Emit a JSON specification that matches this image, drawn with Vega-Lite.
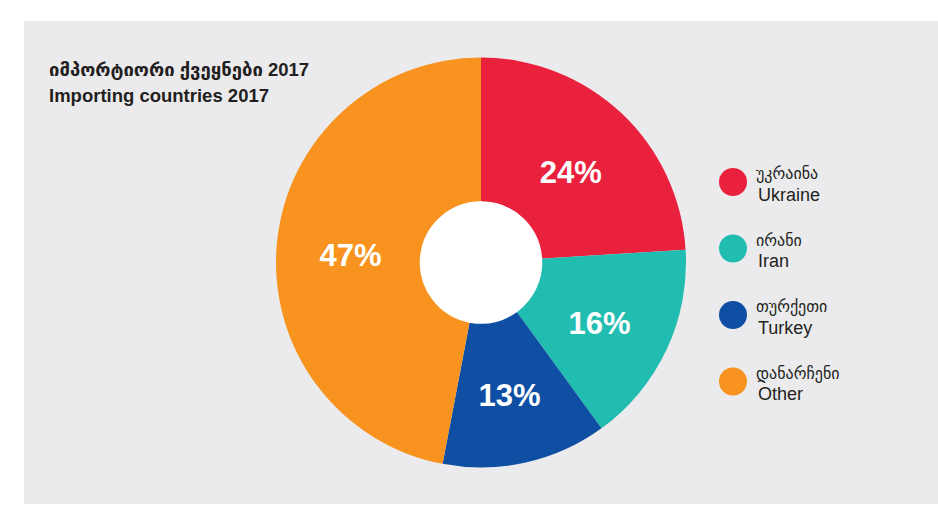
{
  "$schema": "https://vega.github.io/schema/vega-lite/v6.json",
  "width": 914,
  "height": 483,
  "autosize": {"type": "none"},
  "padding": {"left": 24, "top": 21, "right": 0, "bottom": 15},
  "background": "white",
  "view": {"fill": "#EBEBED", "stroke": null},
  "config": {
    "view": {"fill": "#EBEBED", "stroke": null},
    "font": "Liberation Sans, DejaVu Sans, sans-serif"
  },
  "title": {
    "text": ["იმპორტიორი ქვეყნები 2017", "Importing countries 2017"],
    "anchor": "start",
    "frame": "group",
    "orient": "top",
    "offset": 0,
    "dx": 25,
    "dy": 84,
    "baseline": "top",
    "fontSize": 18.5,
    "fontWeight": "bold",
    "lineHeight": 26,
    "color": "#231f20"
  },
  "data": {
    "values": [
      {"i": 1, "ka": "უკრაინა", "en": "Ukraine", "share": 0.24},
      {"i": 2, "ka": "ირანი", "en": "Iran", "share": 0.16},
      {"i": 3, "ka": "თურქეთი", "en": "Turkey", "share": 0.13},
      {"i": 4, "ka": "დანარჩენი", "en": "Other", "share": 0.47}
    ]
  },
  "layer": [
    {
      "mark": {"type": "arc", "radius": 205, "strokeWidth": 0},
      "encoding": {
        "theta": {"field": "share", "type": "quantitative", "stack": true},
        "order": {"field": "i", "type": "quantitative"},
        "fill": {
          "field": "ka",
          "type": "nominal",
          "sort": null,
          "scale": {
            "domain": ["უკრაინა", "ირანი", "თურქეთი", "დანარჩენი"],
            "range": ["#E9213D", "#22BDB1", "#0E4EA3", "#F7931E"]
          },
          "legend": {
            "orient": "none",
            "legendX": 695,
            "legendY": 147,
            "title": null,
            "symbolType": "circle",
            "symbolSize": 784,
            "symbolStrokeWidth": 0,
            "labelFontSize": 16,
            "labelBaseline": "bottom",
            "labelOffset": 9,
            "rowPadding": 36.5,
            "padding": 0,
            "labelColor": "#231f20"
          }
        },
        "stroke": {
          "field": "en",
          "type": "nominal",
          "sort": null,
          "scale": {
            "domain": ["Ukraine", "Iran", "Turkey", "Other"],
            "range": ["transparent", "transparent", "transparent", "transparent"]
          },
          "legend": {
            "orient": "none",
            "legendX": 695,
            "legendY": 165,
            "title": null,
            "symbolType": "circle",
            "symbolSize": 784,
            "symbolOpacity": 0,
            "labelFontSize": 18,
            "labelBaseline": "alphabetic",
            "labelOffset": 9,
            "rowPadding": 37.3,
            "padding": 0,
            "labelColor": "#231f20"
          }
        }
      }
    },
    {
      "mark": {"type": "arc", "radius": 60.5, "fill": "white", "stroke": "white", "strokeWidth": 1.5},
      "encoding": {
        "theta": {"field": "share", "type": "quantitative", "stack": true},
        "order": {"field": "i", "type": "quantitative"}
      }
    },
    {
      "mark": {"type": "text", "radius": 131, "dy": 7, "fontSize": 31, "fontWeight": "bold", "fill": "white", "align": "center", "baseline": "middle"},
      "encoding": {
        "theta": {"field": "share", "type": "quantitative", "stack": true},
        "order": {"field": "i", "type": "quantitative"},
        "text": {"field": "share", "type": "quantitative", "format": ".0%"}
      }
    }
  ]
}
